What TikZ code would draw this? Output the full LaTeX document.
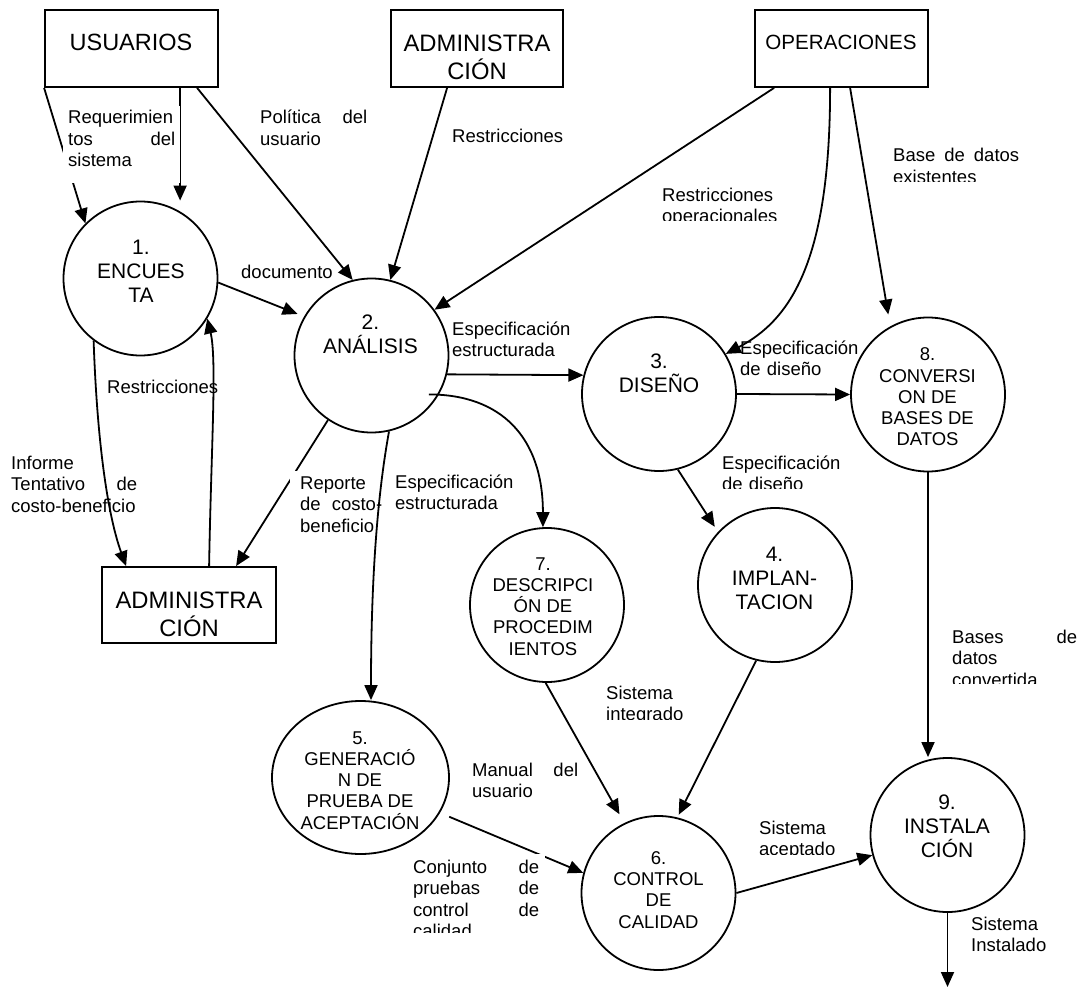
\documentclass[tikz,border=0pt]{standalone}
\usepackage{fontspec}
\setmainfont{Liberation Sans}
\usetikzlibrary{arrows.meta,shapes.geometric,calc}
\begin{document}
\begin{tikzpicture}[x=1pt,y=-1pt,
  box/.style={draw,line width=1.8pt,rectangle,inner sep=0pt},
  proc/.style={draw,line width=1.8pt,circle,minimum size=154pt,inner sep=0pt},
  procE/.style={draw,line width=1.8pt,ellipse,minimum width=177pt,minimum height=153pt,inner sep=0pt},
  ctxtA/.style={font=\fontsize{21pt}{24pt}\selectfont,align=center,inner sep=0pt},
  ctxtB/.style={font=\fontsize{18.5pt}{21.2pt}\selectfont,align=center,inner sep=0pt},
  btxt/.style={font=\fontsize{23.8pt}{28pt}\selectfont,align=center,inner sep=0pt},
  lbl/.style={font=\fontsize{18.5pt}{21.5pt}\selectfont,align=left,inner sep=0pt,anchor=base west},
  flow/.style={line width=1.8pt,-{Triangle[length=15pt,width=13pt]}},
]
\useasboundingbox (0,0) rectangle (1078,987);

% external entities
\node[box,minimum width=173pt,minimum height=77pt] (usu) at (131.5,48.5) {};
\node[box,minimum width=172pt,minimum height=77pt] (adm1) at (477,48.5) {};
\node[box,minimum width=173pt,minimum height=77pt] (ops) at (841.5,48.5) {};
\node[box,minimum width=174pt,minimum height=76pt] (adm2) at (189,605) {};
\node[btxt,font=\fontsize{23.5pt}{28pt}\selectfont] (usuT) at (131,42) {USUARIOS};
\node[btxt] (adm1T) at (477,57.5) {ADMINISTRA\\CIÓN};
\node[btxt,font=\fontsize{20.6pt}{24pt}\selectfont] (opsT) at (841,42) {OPERACIONES};
\node[btxt] (adm2T) at (189,614) {ADMINISTRA\\CIÓN};

% processes
\node[proc] (c1) at (140.5,278.5) {};
\node[proc] (c2) at (371.5,355.5) {};
\node[proc] (c3) at (659,394) {};
\node[proc] (c8) at (928,394.5) {};
\node[proc] (c4) at (775,585) {};
\node[proc] (c7) at (547,605) {};
\node[procE] (c5) at (360.5,777.5) {};
\node[proc] (c6) at (658.5,893) {};
\node[proc] (c9) at (947.5,835) {};

\node[ctxtA] (t1) at (141,271) {1.\\ENCUES\\TA};
\node[ctxtA] (t2) at (370.5,334.5) {2.\\ANÁLISIS};
\node[ctxtA] (t3) at (659,373.5) {3.\\DISEÑO};
\node[ctxtB] (t8) at (927.5,397) {8.\\CONVERSI\\ON DE\\BASES DE\\DATOS};
\node[ctxtA] (t4) at (774.5,578.5) {4.\\IMPLAN-\\TACION};
\node[ctxtB] (t7) at (543,606.5) {7.\\DESCRIPCI\\ÓN DE\\PROCEDIM\\IENTOS};
\node[ctxtB] (t5) at (360,780.5) {5.\\GENERACIÓ\\N DE\\PRUEBA DE\\ACEPTACIÓN};
\node[ctxtB] (t6) at (658.5,890) {6.\\CONTROL\\DE\\CALIDAD};
\node[ctxtA] (t9) at (947,826.5) {9.\\INSTALA\\CIÓN};

\coordinate (u2) at ([xshift=136pt]usu.south west);
\coordinate (outp) at (947.5,987);

% connectors partly hidden by text boxes
\draw[flow] (usu.south west) -- (c1.135);
\draw[flow] (u2) -- (u2 |- c1.north);
\draw[flow] (c2.-124) -- ([xshift=135pt]adm2.north west);
\draw[flow,shorten <=10pt] (c5.-24) -- (c6.165);

% opaque text boxes
\node[lbl,fill=white,inner sep=5pt,text width=107pt,text depth=54pt] (l1) at (63,124) {Requerimien\\tos \hfill del\\sistema};
\node[lbl,fill=white,inner xsep=10pt,inner ysep=5pt,text width=82pt] (l11) at (290,489) {Reporte\\de \hfill costo-\\beneficio};
\begin{scope}
\clip (380,840) rectangle (560,932);
\node[lbl,fill=white,inner sep=6pt,text width=126pt] (l17) at (407,873) {Conjunto \hfill de\\pruebas \hfill de\\control \hfill de\\calidad};
\end{scope}

% other connectors
\draw[flow] ([xshift=153pt]usu.south west) -- (c2.104);
\draw[flow,shorten >=7pt] (c1.-3) -- (c2.150);
\draw[flow] ([xshift=57pt]adm1.south west) -- (c2.76);
\draw[flow] ([xshift=20pt]ops.south west) -- (c2.36);
\draw[flow] ([xshift=76pt]ops.south west) .. controls +(0,173) and +(65,-34) .. (c3.31);
\draw[flow,shorten >=12pt] ([xshift=96pt]ops.south west) -- (c8.119);
\draw[flow] (c2.-14.5) -- (c3.166);
\draw[flow] ([xshift=-10pt]c2.-30) .. controls +(72,0) and +(0,-90) .. (c7.93);
\draw[flow] (c2.-77) .. controls +(-9,49.5) and +(0,-141) .. ([xshift=10.5pt]c5.north);
\draw[flow] (c1.-127) .. controls +(3.8,110) and +(-17,-47) .. ([xshift=25pt]adm2.north west);
\draw[flow] ([xshift=108pt]adm2.north west) .. controls +(2,-117) and +(9.8,41.3) .. (c1.-31.5);
\draw[flow] (c3.east) -- (c8.west);
\draw[flow,shorten >=6pt] (c3.-76) -- (c4.137);
\draw[flow,shorten >=10pt] (c7.-91) -- (c6.116);
\draw[flow,shorten >=3pt] (c4.-104.5) -- (c6.76);
\draw[flow] (c6.east) -- (c9.195);
\draw[flow] (c8.south) -- (c8.south |- c9.north);
\draw[flow] (c9.south) -- (outp);

% labels
\node[lbl,text width=107pt] (l2) at (260,124) {Política \hfill del\\usuario};
\node[lbl] (l3) at (452,143) {Restricciones};
\begin{scope}
\clip (600,150) rectangle (820,220.5);
\node[lbl,text width=120pt] (l4) at (662,201) {Restricciones\\operacionales};
\end{scope}
\begin{scope}
\clip (880,120) rectangle (1078,182);
\node[lbl,text width=126pt] (l5) at (893,162) {Base \hfill de \hfill datos\\existentes};
\end{scope}
\node[lbl] (l6) at (241,278) {documento};
\node[lbl,text width=120pt] (l7) at (452,335) {Especificación\\estructurada};
\node[lbl,text width=120pt] (l8) at (740,354) {Especificación\\de diseño};
\node[lbl] (l9) at (107,393) {Restricciones};
\node[lbl,text width=126pt] (l10) at (11,469) {Informe\\Tentativo \hfill de\\costo-beneficio};
\node[lbl,text width=120pt] (l12) at (395,488) {Especificación\\estructurada};
\begin{scope}
\clip (700,430) rectangle (860,488.5);
\node[lbl,text width=120pt] (l13) at (722,469) {Especificación\\de diseño};
\end{scope}
\begin{scope}
\clip (940,610) rectangle (1078,683.5);
\node[lbl,text width=125pt] (l14) at (952,643) {Bases \hfill de\\datos\\convertida};
\end{scope}
\begin{scope}
\clip (590,670) rectangle (720,719.5);
\node[lbl,text width=100pt] (l15) at (606,699) {Sistema\\integrado};
\end{scope}
\node[lbl,text width=106pt] (l16) at (472,776) {Manual \hfill del\\usuario};
\begin{scope}
\clip (745,800) rectangle (870,854);
\node[lbl,text width=100pt] (l18) at (759,834) {Sistema\\aceptado};
\end{scope}
\node[lbl,text width=100pt] (l19) at (971,930) {Sistema\\Instalado};
\end{tikzpicture}
\end{document}
